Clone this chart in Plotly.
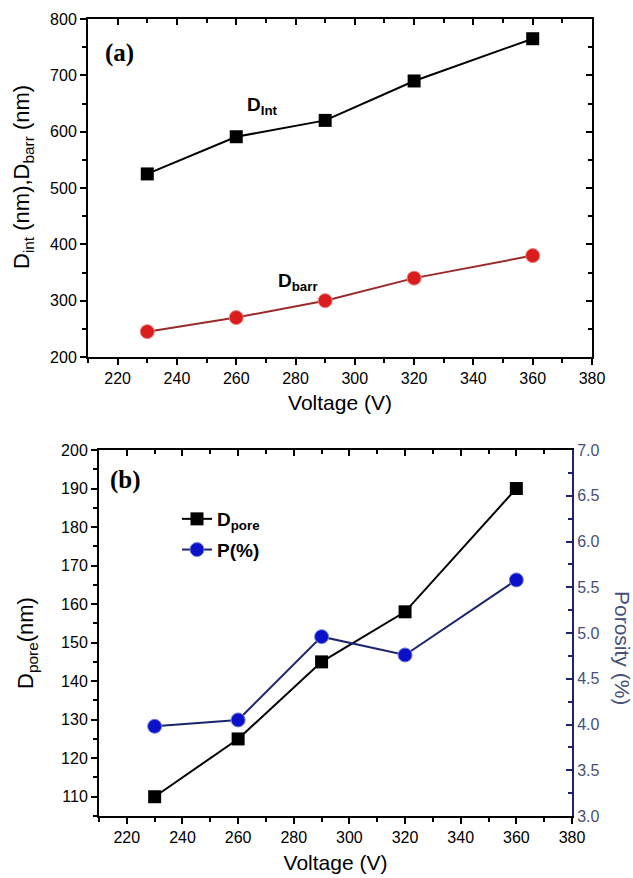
import plotly.graph_objects as go

# ---------------- data ----------------
voltage = [230, 260, 290, 320, 360]
d_int = [525, 591, 620, 690, 765]
d_barr = [245, 270, 300, 340, 380]
d_pore = [110, 125, 145, 158, 190]
porosity = [3.98, 4.05, 4.96, 4.76, 5.58]

W, H = 633, 878

def xd(a, b):
    return [a / W, b / W]

def yd(top, bottom):
    return [(H - bottom) / H, (H - top) / H]

FONT = "Liberation Sans, Arial, sans-serif"
SERIF = "Liberation Serif, Times New Roman, serif"
NAVY = "#1c2470"
GRAYBLUE = "#46507a"

fig = go.Figure()

# top panel
fig.add_trace(go.Scatter(x=voltage, y=d_int, mode="lines+markers", xaxis="x", yaxis="y",
                         line=dict(color="black", width=2),
                         marker=dict(symbol="square", size=13, color="black"),
                         showlegend=False))
fig.add_trace(go.Scatter(x=voltage, y=d_barr, mode="lines+markers", xaxis="x", yaxis="y",
                         line=dict(color="#9a2a2a", width=2),
                         marker=dict(symbol="circle", size=14, color="#d91c1c",
                                     line=dict(color="#f08080", width=1)),
                         showlegend=False))
# invisible copies on the mirror frame axes (to draw inside ticks on top/right)
fig.add_trace(go.Scatter(x=voltage, y=d_int, mode="markers", xaxis="x3", yaxis="y",
                         marker=dict(opacity=0), hoverinfo="skip", showlegend=False))
fig.add_trace(go.Scatter(x=voltage, y=d_int, mode="markers", xaxis="x", yaxis="y3",
                         marker=dict(opacity=0), hoverinfo="skip", showlegend=False))

# bottom panel
fig.add_trace(go.Scatter(x=voltage, y=d_pore, mode="lines+markers", xaxis="x2", yaxis="y2",
                         name="D<sub>pore</sub>", legendgroup="a",
                         line=dict(color="black", width=2),
                         marker=dict(symbol="square", size=13, color="black")))
fig.add_trace(go.Scatter(x=voltage, y=porosity, mode="lines+markers", xaxis="x2", yaxis="y4",
                         name="P(%)", legendgroup="b",
                         line=dict(color=NAVY, width=2),
                         marker=dict(symbol="circle", size=14, color="#0c10c8",
                                     line=dict(color="#6f7fe0", width=1))))
fig.add_trace(go.Scatter(x=voltage, y=d_pore, mode="markers", xaxis="x4", yaxis="y2",
                         marker=dict(opacity=0), hoverinfo="skip", showlegend=False))

tickfont = dict(family=FONT, size=16, color="black")
titlefont = dict(family=FONT, size=21, color="black")

common_x = dict(range=[210, 380], dtick=20, tick0=220, ticks="outside", ticklen=6, tickwidth=2,
                minor=dict(dtick=10, ticks="outside", ticklen=4, tickwidth=2, tickcolor="black"),
                showline=True, linewidth=2, linecolor="black", showgrid=False, zeroline=False,
                tickfont=tickfont, automargin=False, tickcolor="black")
common_y = dict(ticks="outside", ticklen=6, tickwidth=2, showline=True, linewidth=2,
                linecolor="black", showgrid=False, zeroline=False, tickfont=tickfont,
                automargin=False, tickcolor="black")

mirror_x = dict(range=[210, 380], dtick=20, tick0=220, ticks="inside", ticklen=6, tickwidth=2,
                minor=dict(dtick=10, ticks="inside", ticklen=4, tickwidth=2, tickcolor="black"),
                showline=True, linewidth=2, linecolor="black", showgrid=False, zeroline=False,
                showticklabels=False, side="top", automargin=False, tickcolor="black")

fig.update_layout(
    width=W, height=H,
    margin=dict(l=0, r=0, t=0, b=0),
    paper_bgcolor="white", plot_bgcolor="white",
    xaxis=dict(common_x, domain=xd(88, 592), anchor="y",
               title=dict(text="Voltage (V)", font=titlefont, standoff=9)),
    yaxis=dict(common_y, domain=yd(19, 357), anchor="x", range=[200, 800], dtick=100,
               minor=dict(dtick=50, ticks="outside", ticklen=4, tickwidth=2, tickcolor="black")),
    xaxis3=dict(mirror_x, overlaying="x", anchor="y"),
    yaxis3=dict(overlaying="y", side="right", anchor="x", range=[200, 800], dtick=100,
                ticks="inside", ticklen=6, tickwidth=2, tickcolor="black",
                minor=dict(dtick=50, ticks="inside", ticklen=4, tickwidth=2, tickcolor="black"),
                showline=True, linewidth=2, linecolor="black", showgrid=False, zeroline=False,
                showticklabels=False, automargin=False),
    xaxis2=dict(common_x, domain=xd(99, 572), anchor="y2",
                title=dict(text="Voltage (V)", font=titlefont, standoff=10)),
    yaxis2=dict(common_y, domain=yd(450, 816), anchor="x2", range=[105, 200], dtick=10, tick0=110,
                minor=dict(dtick=5, ticks="outside", ticklen=4, tickwidth=2, tickcolor="black")),
    xaxis4=dict(mirror_x, overlaying="x2", anchor="y2"),
    yaxis4=dict(overlaying="y2", side="right", anchor="x2", range=[3.0, 7.0], dtick=0.5,
                tickformat=".1f",
                ticks="inside", ticklen=6, tickwidth=2, tickcolor=NAVY,
                minor=dict(dtick=0.25, ticks="inside", ticklen=4, tickwidth=2, tickcolor=NAVY),
                showline=True, linewidth=2, linecolor=NAVY, showgrid=False, zeroline=False,
                tickfont=dict(family=FONT, size=16, color=GRAYBLUE), automargin=False),
    legend=dict(x=177 / W, y=(H - 500) / H, xanchor="left", yanchor="top",
                bgcolor="rgba(0,0,0,0)",
                font=dict(family=FONT, size=19, color="black", weight="bold"),
                tracegroupgap=3),
    annotations=[
        dict(text="<b>(a)</b>", x=103 / W, y=(H - 53) / H, xref="paper", yref="paper",
             xanchor="left", yanchor="middle", showarrow=False,
             font=dict(family=SERIF, size=25, color="black")),
        dict(text="<b>(b)</b>", x=108 / W, y=(H - 480) / H, xref="paper", yref="paper",
             xanchor="left", yanchor="middle", showarrow=False,
             font=dict(family=SERIF, size=25, color="black")),
        dict(text="<b>D<sub>Int</sub></b>", x=245 / W, y=(H - 106) / H, xref="paper", yref="paper",
             xanchor="left", yanchor="middle", showarrow=False,
             font=dict(family=FONT, size=19, color="black")),
        dict(text="<b>D<sub>barr</sub></b>", x=276 / W, y=(H - 282) / H, xref="paper", yref="paper",
             xanchor="left", yanchor="middle", showarrow=False,
             font=dict(family=FONT, size=19, color="black")),
        dict(text="D<sub>int</sub> (nm),D<sub>barr</sub> (nm)", x=23 / W, y=(H - 177) / H,
             xref="paper", yref="paper", xanchor="center", yanchor="middle", showarrow=False,
             textangle=-90, font=dict(family=FONT, size=22, color="black")),
        dict(text="D<sub>pore</sub>(nm)", x=27 / W, y=(H - 643) / H,
             xref="paper", yref="paper", xanchor="center", yanchor="middle", showarrow=False,
             textangle=-90, font=dict(family=FONT, size=22, color="black")),
        dict(text="Porosity (%)", x=622 / W, y=(H - 648) / H, xref="paper", yref="paper",
             xanchor="center", yanchor="middle", showarrow=False, textangle=90,
             font=dict(family=FONT, size=21, color=GRAYBLUE)),
    ],
)

fig.write_html("out.html", config={"displayModeBar": False},
               post_script="document.body.style.margin='0';document.body.style.overflow='hidden';")
